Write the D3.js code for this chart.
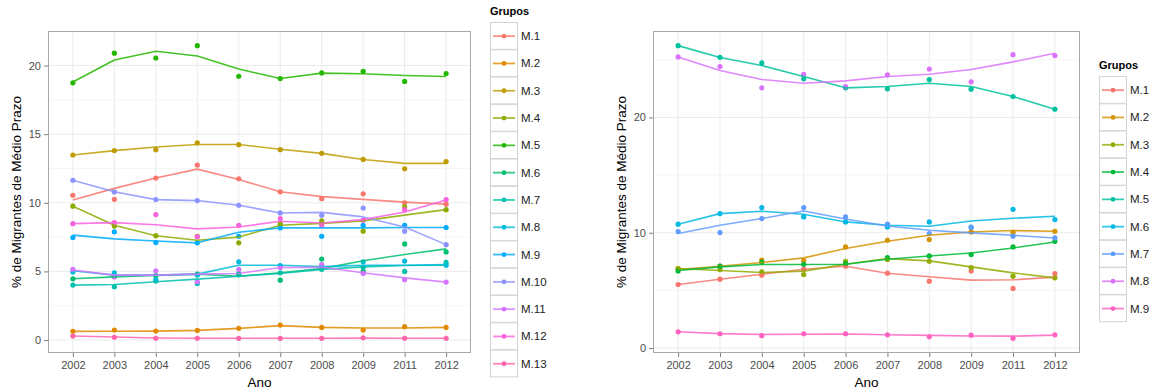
<!DOCTYPE html>
<html>
<head>
<meta charset="utf-8">
<script src="https://cdn.jsdelivr.net/npm/d3@7"></script>
<style>
  body { margin: 0; background: #fff; }
  svg { font-family: "Liberation Sans", Arial, sans-serif; }
</style>
</head>
<body>
<div id="chart-area"></div>
<script>
// anos (eixo x discreto, sem 2010)
var anos = ["2002", "2003", "2004", "2005", "2006", "2007", "2008", "2009", "2011", "2012"];

// painel esquerdo
var gruposA = ["M.1", "M.2", "M.3", "M.4", "M.5", "M.6", "M.7", "M.8", "M.9", "M.10", "M.11", "M.12", "M.13"];
var coresA = ["#F8766D", "#E18A00", "#BE9C00", "#8CAB00", "#24B700", "#00BE70", "#00C1AB",
              "#00BBDA", "#00ACFC", "#8B93FF", "#D575FE", "#F962DD", "#FF65AC"];
var pontosA = [
    [10.55, 10.25, 11.8, 12.75, 11.75, 10.8, 10.3, 10.65, 10.0, 9.9],
    [0.63, 0.73, 0.65, 0.7, 0.85, 1.09, 0.92, 0.73, 0.97, 0.92],
    [13.48, 13.8, 13.87, 14.37, 14.23, 13.87, 13.6, 13.16, 12.48, 13.0],
    [9.75, 8.3, 7.6, 7.55, 7.08, 8.48, 8.68, 7.93, 9.7, 9.5],
    [18.74, 20.9, 20.55, 21.45, 19.22, 19.05, 19.46, 19.58, 18.84, 19.42],
    [4.46, 4.65, 4.7, 4.8, 4.85, 4.36, 5.9, 5.0, 7.0, 6.42],
    [4.0, 3.88, 4.3, 4.12, 4.75, 4.9, 5.15, 5.3, 5.0, 5.65],
    [4.95, 4.9, 4.4, 4.73, 5.7, 5.43, 5.3, 5.7, 5.75, 5.45],
    [7.47, 7.88, 7.1, 7.08, 7.56, 8.17, 7.56, 8.36, 8.36, 8.2],
    [11.64, 10.79, 10.23, 10.16, 9.82, 9.26, 9.09, 9.62, 7.93, 6.95],
    [5.14, 4.6, 5.04, 4.24, 5.14, 5.28, 5.5, 4.85, 4.4, 4.22],
    [8.48, 8.55, 9.14, 7.52, 8.36, 8.85, 8.36, 8.73, 9.5, 10.23],
    [0.29, 0.2, 0.13, 0.13, 0.12, 0.12, 0.13, 0.16, 0.13, 0.13]
];
var linhasA = [
    [10.2, 11.05, 11.8, 12.45, 11.7, 10.8, 10.45, 10.25, 10.05, 9.9],
    [0.63, 0.64, 0.65, 0.7, 0.85, 1.05, 0.92, 0.87, 0.88, 0.92],
    [13.48, 13.8, 14.06, 14.25, 14.25, 13.9, 13.6, 13.15, 12.87, 12.87],
    [9.75, 8.36, 7.6, 7.27, 7.5, 8.36, 8.5, 8.68, 9.1, 9.5],
    [18.8, 20.4, 21.04, 20.7, 19.75, 19.05, 19.45, 19.4, 19.27, 19.2],
    [4.46, 4.6, 4.7, 4.8, 4.65, 4.9, 5.2, 5.77, 6.23, 6.64],
    [4.0, 4.05, 4.24, 4.44, 4.65, 4.85, 5.15, 5.33, 5.43, 5.45],
    [5.05, 4.73, 4.73, 4.8, 5.45, 5.45, 5.35, 5.45, 5.45, 5.5],
    [7.64, 7.37, 7.22, 7.08, 7.85, 8.17, 8.17, 8.17, 8.2, 8.2],
    [11.64, 10.8, 10.23, 10.16, 9.82, 9.26, 9.3, 8.97, 8.24, 6.95],
    [5.1, 4.73, 4.73, 4.8, 4.85, 5.28, 5.3, 4.9, 4.53, 4.22],
    [8.48, 8.55, 8.4, 8.1, 8.24, 8.65, 8.53, 8.77, 9.33, 10.2],
    [0.29, 0.22, 0.15, 0.13, 0.13, 0.13, 0.13, 0.14, 0.13, 0.13]
];
var ticksA = [0, 5, 10, 15, 20];

// painel direito
var gruposB = ["M.1", "M.2", "M.3", "M.4", "M.5", "M.6", "M.7", "M.8", "M.9"];
var coresB = ["#F8766D", "#D39200", "#93AA00", "#00BA38", "#00C19F", "#00B9E3", "#619CFF", "#DB72FB", "#FF61C3"];
var pontosB = [
    [5.51, 5.97, 6.32, 6.84, 7.1, 6.49, 5.8, 6.69, 5.17, 6.46],
    [6.9, 7.1, 7.62, 7.59, 8.77, 9.35, 9.41, 10.07, 10.02, 10.13],
    [6.9, 6.81, 6.61, 6.38, 7.53, 7.68, 7.53, 6.98, 6.23, 6.09],
    [6.69, 7.1, 7.45, 7.27, 7.33, 7.85, 7.99, 8.11, 8.77, 9.26],
    [26.23, 25.22, 24.73, 23.35, 22.57, 22.48, 23.29, 22.45, 21.82, 20.72],
    [10.74, 11.66, 12.18, 11.37, 10.94, 10.5, 10.94, 10.5, 12.03, 11.14],
    [10.1, 10.02, 11.23, 12.18, 11.37, 10.74, 9.93, 10.45, 9.7, 9.55],
    [25.25, 24.42, 22.57, 23.75, 22.68, 23.7, 24.2, 23.09, 25.45, 25.37],
    [1.41, 1.24, 1.07, 1.24, 1.24, 1.15, 0.98, 1.12, 0.84, 1.15]
];
var linhasB = [
    [5.51, 5.97, 6.4, 6.84, 7.1, 6.49, 6.18, 5.89, 5.92, 6.15],
    [6.81, 7.1, 7.42, 7.82, 8.63, 9.26, 9.78, 10.07, 10.19, 10.13],
    [6.9, 6.72, 6.55, 6.67, 7.27, 7.76, 7.56, 7.04, 6.52, 6.09],
    [6.72, 7.04, 7.25, 7.25, 7.27, 7.7, 7.99, 8.25, 8.68, 9.2],
    [26.23, 25.2, 24.5, 23.55, 22.57, 22.68, 22.97, 22.68, 21.82, 20.72],
    [10.74, 11.66, 11.86, 11.6, 10.94, 10.65, 10.56, 11.02, 11.26, 11.43],
    [9.93, 10.65, 11.23, 11.89, 11.2, 10.59, 10.22, 9.99, 9.78, 9.55],
    [25.25, 24.07, 23.29, 22.97, 23.17, 23.55, 23.75, 24.16, 24.82, 25.57],
    [1.41, 1.25, 1.18, 1.2, 1.22, 1.15, 1.1, 1.05, 1.03, 1.12]
];
var ticksB = [0, 10, 20];

var svg = d3.select("#chart-area")
    .append("svg")
        .attr("width", 1152)
        .attr("height", 392);

function painel(p) {
    var g = svg.append("g");

    var x = d3.scalePoint()
        .domain(anos)
        .range([p.left, p.right])
        .padding(0.6);

    var todos = d3.merge(p.pontos.concat(p.linhas));
    var ext = d3.extent(todos);
    var pad = (ext[1] - ext[0]) * 0.05;
    var y = d3.scaleLinear()
        .domain([ext[0] - pad, ext[1] + pad])
        .range([p.bottom, p.top]);

    // fundo + grade
    g.append("rect")
        .attr("x", p.left).attr("y", p.top)
        .attr("width", p.right - p.left).attr("height", p.bottom - p.top)
        .attr("fill", "#fff");

    var passo = p.ticks[1] - p.ticks[0];
    var menores = p.ticks.map(function(t){ return t + passo / 2; })
        .concat([p.ticks[0] - passo / 2])
        .filter(function(t){ return y(t) >= p.top && y(t) <= p.bottom; });

    g.selectAll(".minor").data(menores).enter().append("line")
        .attr("x1", p.left).attr("x2", p.right)
        .attr("y1", function(d){ return y(d); }).attr("y2", function(d){ return y(d); })
        .attr("stroke", "#f6f6f6").attr("stroke-width", 1);

    g.selectAll(".majY").data(p.ticks).enter().append("line")
        .attr("x1", p.left).attr("x2", p.right)
        .attr("y1", function(d){ return y(d); }).attr("y2", function(d){ return y(d); })
        .attr("stroke", "#ebebeb").attr("stroke-width", 1);

    g.selectAll(".majX").data(anos).enter().append("line")
        .attr("y1", p.top).attr("y2", p.bottom)
        .attr("x1", function(d){ return x(d); }).attr("x2", function(d){ return x(d); })
        .attr("stroke", "#ebebeb").attr("stroke-width", 1);

    // pontos
    p.pontos.forEach(function(serie, i) {
        g.selectAll(".pt" + i).data(serie).enter().append("circle")
            .attr("cx", function(d, j){ return x(anos[j]); })
            .attr("cy", function(d){ return y(d); })
            .attr("r", 2.6)
            .attr("fill", p.cores[i]);
    });

    // linhas suavizadas
    var linha = d3.line()
        .x(function(d, j){ return x(anos[j]); })
        .y(function(d){ return y(d); });

    p.linhas.forEach(function(serie, i) {
        g.append("path")
            .datum(serie)
            .attr("d", linha)
            .attr("fill", "none")
            .attr("stroke", p.cores[i])
            .attr("stroke-width", 1.6)
            .attr("stroke-linejoin", "round")
            .attr("stroke-opacity", 0.85);
    });

    // borda
    g.append("rect")
        .attr("x", p.left + 0.5).attr("y", p.top + 0.5)
        .attr("width", p.right - p.left - 1).attr("height", p.bottom - p.top - 1)
        .attr("fill", "none")
        .attr("stroke", "#a9a9a9");

    // eixos
    var yAxisCall = d3.axisLeft(y).tickValues(p.ticks).tickSize(4).tickPadding(3);
    var ya = g.append("g")
        .attr("transform", "translate(" + p.left + ",0)")
        .call(yAxisCall);
    ya.select(".domain").remove();
    ya.selectAll("line").attr("stroke", "#7f7f7f");
    ya.selectAll("text").attr("font-size", "11px").attr("fill", "#4d4d4d")
        .attr("font-family", "Liberation Sans, Arial, sans-serif");

    var xAxisCall = d3.axisBottom(x).tickSize(4).tickPadding(4);
    var xa = g.append("g")
        .attr("transform", "translate(0," + p.bottom + ")")
        .call(xAxisCall);
    xa.select(".domain").remove();
    xa.selectAll("line").attr("stroke", "#7f7f7f");
    xa.selectAll("text").attr("font-size", "11px").attr("fill", "#4d4d4d")
        .attr("font-family", "Liberation Sans, Arial, sans-serif");

    // titulos dos eixos
    g.append("text")
        .attr("x", (p.left + p.right) / 2)
        .attr("y", 387)
        .attr("font-size", "13.5px")
        .attr("text-anchor", "middle")
        .text("Ano");

    g.append("text")
        .attr("transform", "translate(" + p.ytitulo + "," + (p.top + p.bottom) / 2 + ") rotate(-90)")
        .attr("font-size", "13.5px")
        .attr("text-anchor", "middle")
        .text("% de Migrantes de Médio Prazo");

    // legenda
    var lg = g.append("g").attr("transform", "translate(" + p.legX + "," + p.legY + ")");
    lg.append("text")
        .attr("x", 0).attr("y", -7)
        .attr("font-size", "11px")
        .attr("font-weight", "bold")
        .text("Grupos");

    var chave = 27.3;
    var itens = lg.selectAll(".item").data(p.grupos).enter().append("g")
        .attr("transform", function(d, i){ return "translate(0," + (i * chave) + ")"; });

    itens.append("rect")
        .attr("x", 0.5).attr("y", 0.5)
        .attr("width", 27).attr("height", chave - 0.5)
        .attr("fill", "#fff")
        .attr("stroke", "#d4d4d4");
    itens.append("line")
        .attr("x1", 3).attr("x2", 25)
        .attr("y1", chave / 2 + 0.5).attr("y2", chave / 2 + 0.5)
        .attr("stroke", function(d, i){ return p.cores[i]; })
        .attr("stroke-width", 1.8)
        .attr("stroke-opacity", 0.8);
    itens.append("circle")
        .attr("cx", 14).attr("cy", chave / 2 + 0.5)
        .attr("r", 2.4)
        .attr("fill", function(d, i){ return p.cores[i]; });
    itens.append("text")
        .attr("x", 31)
        .attr("y", chave / 2 + 4.5)
        .attr("font-size", "11.5px")
        .attr("fill", "#222")
        .text(function(d){ return d; });
}

painel({
    left: 48, right: 471, top: 31, bottom: 353,
    pontos: pontosA, linhas: linhasA, cores: coresA, grupos: gruposA, ticks: ticksA,
    ytitulo: 21, legX: 490, legY: 22
});

painel({
    left: 653, right: 1080, top: 31, bottom: 353,
    pontos: pontosB, linhas: linhasB, cores: coresB, grupos: gruposB, ticks: ticksB,
    ytitulo: 626, legX: 1099, legY: 76
});
</script>
</body>
</html>
